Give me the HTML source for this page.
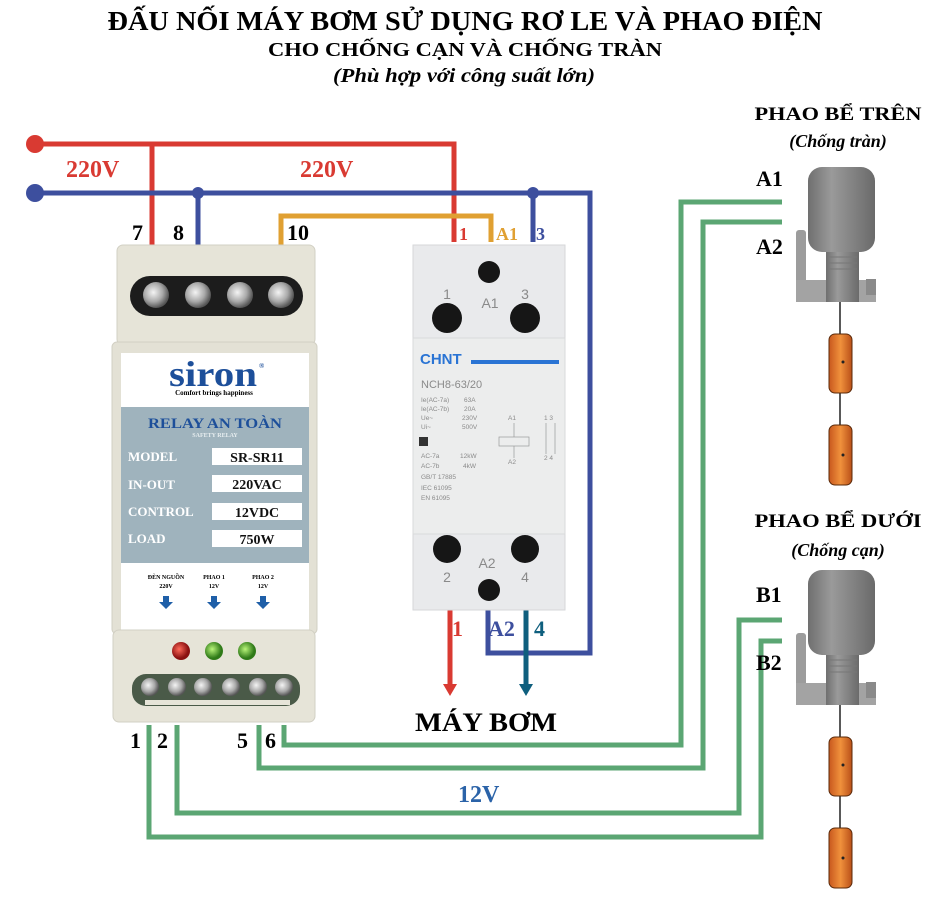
<!DOCTYPE html>
<html><head><meta charset="utf-8"><style>
html,body{margin:0;padding:0;background:#fff;}
svg{display:block;}
text{font-family:"Liberation Serif","DejaVu Serif",serif;font-weight:bold;}
.s text,text.s{font-family:"Liberation Sans",sans-serif;font-weight:normal;fill:#8a8a8a;}
</style></head><body>
<svg width="950" height="900" viewBox="0 0 950 900" xmlns="http://www.w3.org/2000/svg">
<defs>
<radialGradient id="scr" cx="40%" cy="40%" r="60%"><stop offset="0" stop-color="#f4f4f4"/><stop offset="0.6" stop-color="#a9a9a9"/><stop offset="1" stop-color="#555"/></radialGradient>
<linearGradient id="orng" x1="0" x2="1"><stop offset="0" stop-color="#c8581e"/><stop offset="0.5" stop-color="#f0913c"/><stop offset="1" stop-color="#b94f18"/></linearGradient>
<linearGradient id="gry" x1="0" x2="1"><stop offset="0" stop-color="#6f6f6f"/><stop offset="0.35" stop-color="#9a9a9a"/><stop offset="1" stop-color="#6a6a6a"/></linearGradient>
<radialGradient id="ledr" cx="40%" cy="40%"><stop offset="0" stop-color="#ff6a5a"/><stop offset="1" stop-color="#8a1010"/></radialGradient>
<radialGradient id="ledg" cx="40%" cy="40%"><stop offset="0" stop-color="#b9f57a"/><stop offset="1" stop-color="#2f7a18"/></radialGradient>
<g id="float">
  <rect x="796" y="63" width="10" height="72" rx="3" fill="#9c9c9c"/>
  <rect x="796" y="113" width="80" height="22" fill="#a3a3a3"/>
  <rect x="826" y="83" width="33" height="52" fill="url(#gry)"/>
  <line x1="828" y1="90" x2="857" y2="90" stroke="#777"/><line x1="828" y1="96" x2="857" y2="96" stroke="#777"/><line x1="828" y1="102" x2="857" y2="102" stroke="#777"/>
  <rect x="808" y="0" width="67" height="85" rx="14" fill="url(#gry)"/>
  <rect x="866" y="112" width="10" height="16" fill="#8a8a8a"/>
  <line x1="840" y1="135" x2="840" y2="318" stroke="#222" stroke-width="1.5"/>
  <rect x="829" y="167" width="23" height="59" rx="6" fill="url(#orng)" stroke="#5a2a0a" stroke-width="1"/>
  <circle cx="843" cy="195" r="1.5" fill="#222"/>
  <rect x="829" y="258" width="23" height="60" rx="6" fill="url(#orng)" stroke="#5a2a0a" stroke-width="1"/>
  <circle cx="843" cy="288" r="1.5" fill="#222"/>
</g>
</defs>

<text x="465" y="30" font-size="27" text-anchor="middle" textLength="715" lengthAdjust="spacingAndGlyphs">ĐẤU NỐI MÁY BƠM SỬ DỤNG RƠ LE VÀ PHAO ĐIỆN</text>
<text x="465" y="56" font-size="20" text-anchor="middle" textLength="394" lengthAdjust="spacingAndGlyphs">CHO CHỐNG CẠN VÀ CHỐNG TRÀN</text>
<text x="464" y="82" font-size="20" font-style="italic" text-anchor="middle" textLength="262" lengthAdjust="spacingAndGlyphs">(Phù hợp với công suất lớn)</text>

<g fill="none" stroke-width="5">
<polyline points="35,144 454,144 454,242" stroke="#d93a32"/>
<line x1="152" y1="144" x2="152" y2="247" stroke="#d93a32"/>
<polyline points="35,193 590,193 590,653 488,653 488,610" stroke="#3d4f9e"/>
<line x1="198" y1="193" x2="198" y2="247" stroke="#3d4f9e"/>
<line x1="533" y1="193" x2="533" y2="242" stroke="#3d4f9e"/>
<polyline points="281,247 281,216 491,216 491,242" stroke="#e0a032"/>
<line x1="450" y1="610" x2="450" y2="686" stroke="#d93a32"/>
<line x1="526" y1="610" x2="526" y2="686" stroke="#0f5f7e"/>
<g stroke="#5ba673">
<polyline points="284,725 284,745 681,745 681,202 782,202"/>
<polyline points="259,725 259,768 703,768 703,222 782,222"/>
<polyline points="177,725 177,813 739,813 739,620 782,620"/>
<polyline points="149,725 149,837 761,837 761,641 782,641"/>
</g>
</g>
<circle cx="35" cy="144" r="9" fill="#d93a32"/>
<circle cx="35" cy="193" r="9" fill="#3d4f9e"/>
<circle cx="198" cy="193" r="6" fill="#3d4f9e"/>
<circle cx="533" cy="193" r="6" fill="#3d4f9e"/>
<polygon points="443,684 457,684 450,696" fill="#d93a32"/>
<polygon points="519,684 533,684 526,696" fill="#0f5f7e"/>

<use href="#float" transform="translate(0,167)"/>
<use href="#float" transform="translate(0,570)"/>

<rect x="117" y="245" width="198" height="100" rx="6" fill="#e6e4d8" stroke="#d2d0c4"/>
<rect x="130" y="276" width="173" height="40" rx="20" fill="#1c1c1c"/>
<circle cx="156" cy="295" r="13" fill="url(#scr)"/>
<circle cx="198" cy="295" r="13" fill="url(#scr)"/>
<circle cx="240" cy="295" r="13" fill="url(#scr)"/>
<circle cx="281" cy="295" r="13" fill="url(#scr)"/>
<rect x="112" y="342" width="205" height="292" rx="5" fill="#e3e1d5" stroke="#d2d0c4"/>
<rect x="121" y="353" width="188" height="280" fill="#fff"/>
<rect x="121" y="407" width="188" height="156" fill="#9fb3bd"/>
<text x="213" y="386" font-size="36" fill="#1d4f9a" text-anchor="middle" textLength="88" lengthAdjust="spacingAndGlyphs">siron</text>
<text x="259" y="368" font-size="7" fill="#1d4f9a">®</text>
<text x="214" y="395" font-size="7" text-anchor="middle">Comfort brings happiness</text>
<text x="215" y="428" font-size="15" fill="#1d4f9a" text-anchor="middle" textLength="134" lengthAdjust="spacingAndGlyphs">RELAY AN TOÀN</text>
<text x="215" y="437" font-size="6" fill="#e8eef0" text-anchor="middle">SAFETY RELAY</text>
<g font-size="13" fill="#fff">
<text x="128" y="461">MODEL</text><text x="128" y="489">IN-OUT</text><text x="128" y="516">CONTROL</text><text x="128" y="543">LOAD</text>
</g>
<g fill="#fff"><rect x="212" y="448" width="90" height="17"/><rect x="212" y="475" width="90" height="17"/><rect x="212" y="503" width="90" height="17"/><rect x="212" y="530" width="90" height="17"/></g>
<g font-size="14" text-anchor="middle" fill="#111">
<text x="257" y="462" font-weight="normal">SR-SR11</text><text x="257" y="489" font-weight="normal">220VAC</text><text x="257" y="517" font-weight="normal">12VDC</text><text x="257" y="544" font-weight="normal">750W</text>
</g>
<g font-size="6" text-anchor="middle"><text x="166" y="579">ĐÈN NGUỒN</text><text x="166" y="588">220V</text><text x="214" y="579">PHAO 1</text><text x="214" y="588">12V</text><text x="263" y="579">PHAO 2</text><text x="263" y="588">12V</text></g>
<g fill="#1f5fa8"><path d="M163,596h6v6h4l-7,7l-7,-7h4z"/><path d="M211,596h6v6h4l-7,7l-7,-7h4z"/><path d="M260,596h6v6h4l-7,7l-7,-7h4z"/></g>
<rect x="113" y="630" width="202" height="92" rx="6" fill="#e6e4d8" stroke="#d2d0c4"/>
<circle cx="181" cy="651" r="9" fill="url(#ledr)"/>
<circle cx="214" cy="651" r="9" fill="url(#ledg)"/>
<circle cx="247" cy="651" r="9" fill="url(#ledg)"/>
<rect x="132" y="674" width="168" height="32" rx="14" fill="#4a5a48"/>
<rect x="145" y="700" width="145" height="5" fill="#e6e4d8"/>
<g><circle cx="150" cy="687" r="9" fill="url(#scr)"/><circle cx="177" cy="687" r="9" fill="url(#scr)"/><circle cx="203" cy="687" r="9" fill="url(#scr)"/><circle cx="231" cy="687" r="9" fill="url(#scr)"/><circle cx="258" cy="687" r="9" fill="url(#scr)"/><circle cx="284" cy="687" r="9" fill="url(#scr)"/></g>

<rect x="413" y="245" width="152" height="365" fill="#e9eaec" stroke="#d6d7d9"/>
<rect x="413" y="338" width="152" height="196" fill="#eceded" stroke="#d9dadb"/>
<circle cx="489" cy="272" r="11" fill="#161616"/><circle cx="447" cy="318" r="15" fill="#161616"/><circle cx="525" cy="318" r="15" fill="#161616"/>
<g class="s" font-size="14" text-anchor="middle"><text x="447" y="299">1</text><text x="490" y="308">A1</text><text x="525" y="299">3</text>
<text x="487" y="568">A2</text><text x="447" y="582">2</text><text x="525" y="582">4</text></g>
<circle cx="447" cy="549" r="14" fill="#161616"/><circle cx="525" cy="549" r="14" fill="#161616"/><circle cx="489" cy="590" r="11" fill="#161616"/>
<text x="420" y="364" font-size="15" fill="#2a74d4" style="font-family:'Liberation Sans',sans-serif">CHNT</text>
<rect x="471" y="360" width="88" height="4" fill="#2a74d4"/>
<g class="s"><text x="421" y="388" font-size="11">NCH8-63/20</text>
<g font-size="6.5"><text x="421" y="402">Ie(AC-7a)</text><text x="464" y="402">63A</text><text x="421" y="411">Ie(AC-7b)</text><text x="464" y="411">20A</text><text x="421" y="420">Ue~</text><text x="462" y="420">230V</text><text x="421" y="429">Ui~</text><text x="462" y="429">500V</text>
<text x="421" y="458">AC-7a</text><text x="460" y="458">12kW</text><text x="421" y="468">AC-7b</text><text x="463" y="468">4kW</text><text x="421" y="479">GB/T 17885</text><text x="421" y="490">IEC 61095</text><text x="421" y="500">EN 61095</text>
<text x="508" y="420">A1</text><text x="508" y="464">A2</text><text x="544" y="420">1 3</text><text x="544" y="460">2 4</text></g></g>
<rect x="419" y="437" width="9" height="9" fill="#333"/>
<rect x="499" y="437" width="30" height="9" fill="none" stroke="#999" stroke-width="0.7"/>
<line x1="514" y1="423" x2="514" y2="437" stroke="#999" stroke-width="0.7"/><line x1="514" y1="446" x2="514" y2="458" stroke="#999" stroke-width="0.7"/>
<line x1="546" y1="423" x2="546" y2="454" stroke="#999" stroke-width="0.7"/><line x1="555" y1="423" x2="555" y2="454" stroke="#999" stroke-width="0.7"/>

<text x="66" y="177" font-size="24" fill="#d93a32">220V</text>
<text x="300" y="177" font-size="24" fill="#d93a32">220V</text>
<text x="132" y="240" font-size="22">7</text>
<text x="173" y="240" font-size="22">8</text>
<text x="287" y="240" font-size="22">10</text>
<text x="459" y="240" font-size="18" fill="#d93a32">1</text>
<text x="496" y="240" font-size="18" fill="#e0a032">A1</text>
<text x="536" y="240" font-size="18" fill="#3d4f9e">3</text>
<text x="452" y="636" font-size="22" fill="#d93a32">1</text>
<text x="488" y="636" font-size="22" fill="#3d4f9e">A2</text>
<text x="534" y="636" font-size="22" fill="#0f5f7e">4</text>
<text x="415" y="731" font-size="26" textLength="142" lengthAdjust="spacingAndGlyphs">MÁY BƠM</text>
<text x="130" y="748" font-size="22">1</text><text x="157" y="748" font-size="22">2</text>
<text x="237" y="748" font-size="22">5</text><text x="265" y="748" font-size="22">6</text>
<text x="458" y="802" font-size="24" fill="#2b63a8">12V</text>

<text x="838" y="120" font-size="19" text-anchor="middle" textLength="167" lengthAdjust="spacingAndGlyphs">PHAO BỂ TRÊN</text>
<text x="838" y="147" font-size="18" font-style="italic" font-weight="normal" text-anchor="middle">(Chống tràn)</text>
<text x="756" y="186" font-size="22">A1</text>
<text x="756" y="254" font-size="22">A2</text>
<text x="838" y="527" font-size="19" text-anchor="middle" textLength="167" lengthAdjust="spacingAndGlyphs">PHAO BỂ DƯỚI</text>
<text x="838" y="556" font-size="18" font-style="italic" font-weight="normal" text-anchor="middle">(Chống cạn)</text>
<text x="756" y="602" font-size="22">B1</text>
<text x="756" y="670" font-size="22">B2</text>
</svg>
</body></html>
